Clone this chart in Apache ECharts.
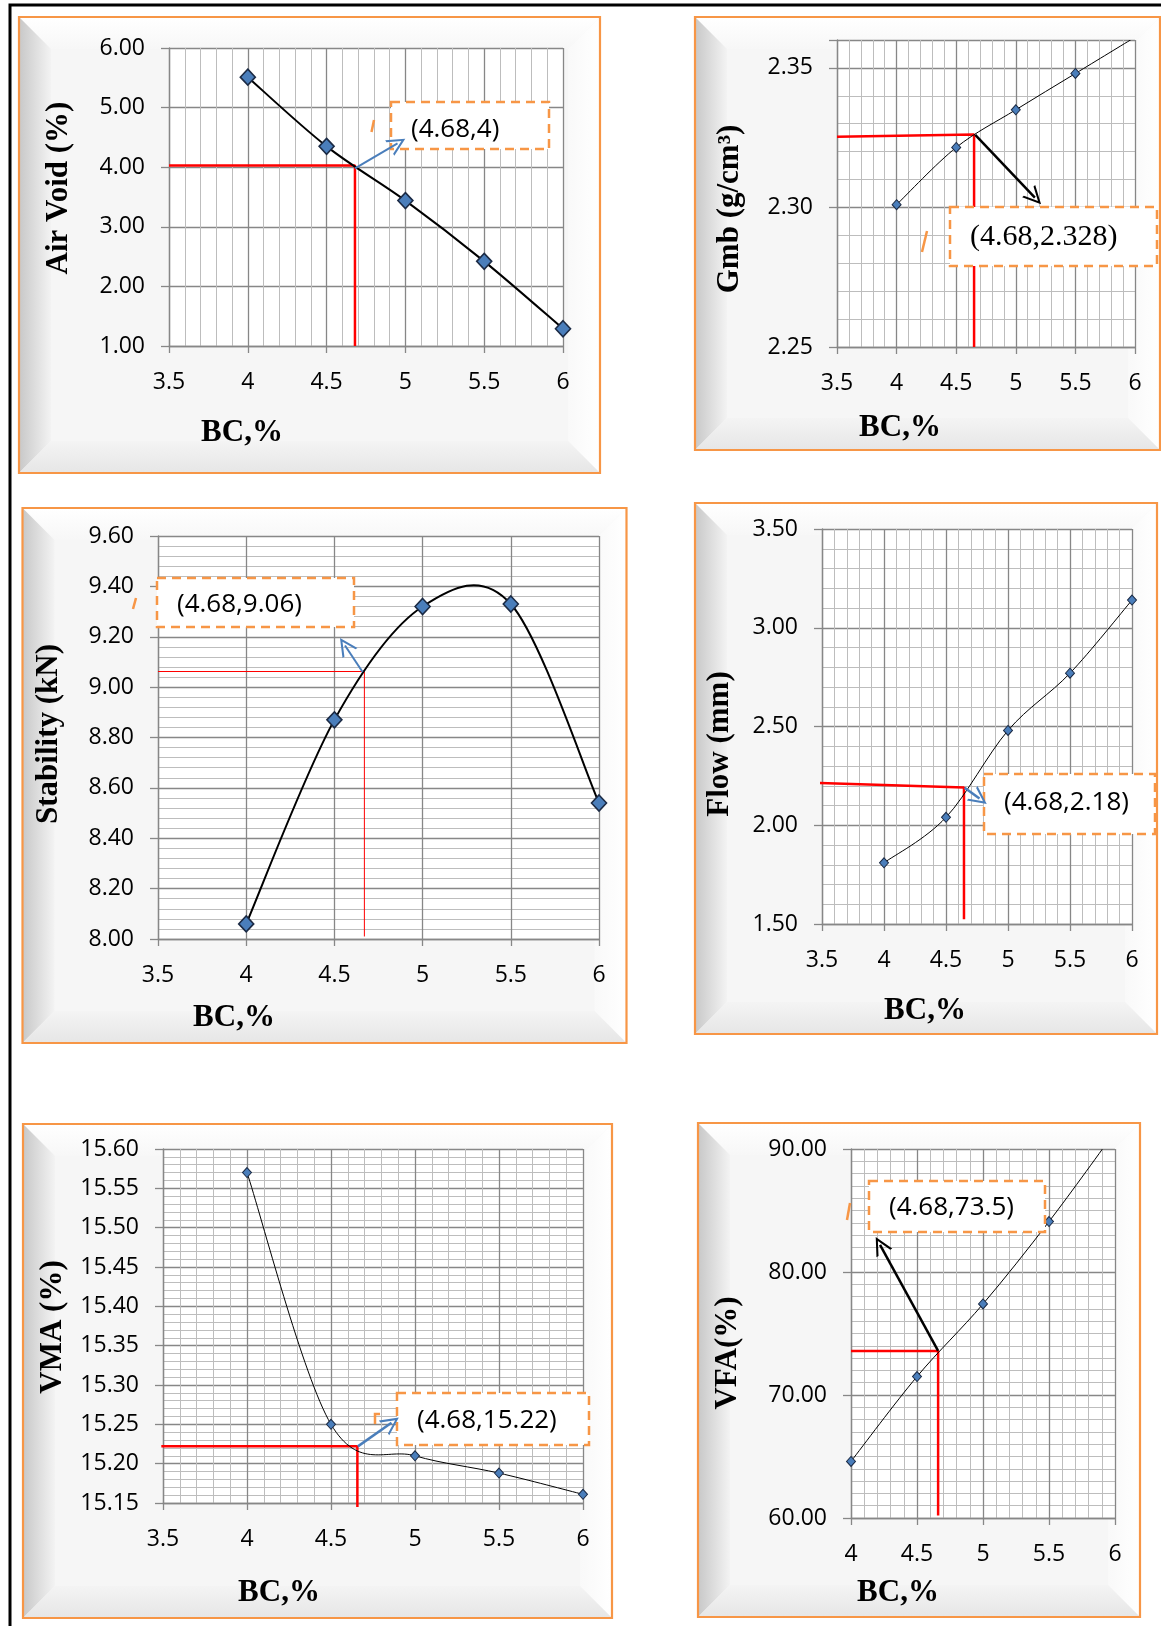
<!DOCTYPE html>
<html>
<head>
<meta charset="utf-8">
<title>Marshall mix design curves</title>
<script src="https://cdn.jsdelivr.net/npm/echarts@6/dist/echarts.min.js"></script>
<style>
html, body { margin: 0; padding: 0; background: #fff; }
#main { width: 1161px; height: 1626px; }
</style>
</head>
<body>
<div id="main"></div>
<script>
// binder content (BC, %)
var bcPct = [4, 4.5, 5, 5.5, 6];
var bcTicks = [3.5, 4, 4.5, 5, 5.5, 6];
var vfaBcTicks = [4, 4.5, 5, 5.5, 6];

// test results per binder content
var airVoid   = [5.51, 4.35, 3.44, 2.42, 1.29];
var gmb       = [2.301, 2.3215, 2.335, 2.348, 2.361];
var stability = [8.06, 8.87, 9.32, 9.33, 8.54];
var flow      = [1.81, 2.04, 2.48, 2.77, 3.14];
var vma       = [15.570, 15.250, 15.210, 15.188, 15.161];
var vfa       = [64.6, 71.5, 77.4, 84.1, 91.4];

// y tick labels
var airVoidTicks   = [1, 2, 3, 4, 5, 6];
var gmbTicks       = [2.25, 2.30, 2.35];
var stabilityTicks = [8.0, 8.2, 8.4, 8.6, 8.8, 9.0, 9.2, 9.4, 9.6];
var flowTicks      = [1.5, 2.0, 2.5, 3.0, 3.5];
var vmaTicks       = [15.15, 15.20, 15.25, 15.30, 15.35, 15.40, 15.45, 15.50, 15.55, 15.60];
var vfaTicks       = [60, 70, 80, 90];

// read-off lines at the optimum binder content
var airVoidGuide   = [[3.5, 4.03], [4.68, 4.03], [4.68, 1.0]];
var gmbGuide       = [[3.5, 2.3253], [4.65, 2.3261], [4.65, 2.25]];
var stabilityGuide = [[3.5, 9.062], [4.67, 9.062], [4.67, 8.01]];
var flowGuide      = [[3.47, 2.214], [4.645, 2.191], [4.645, 1.524]];
var vmaGuide       = [[3.49, 15.222], [4.657, 15.222], [4.657, 15.145]];
var vfaGuide       = [[4.0, 73.58], [4.66, 73.58], [4.66, 60.2]];

// arrows from the read-off point to the call-out
var airVoidArrow   = [[4.68, 3.98], [4.95, 4.40]];
var gmbArrow       = [[4.66, 2.326], [5.16, 2.3035]];
var stabilityArrow = [[4.66, 9.06], [4.56, 9.165]];
var flowArrow      = [[4.65, 2.19], [4.77, 2.135]];
var vmaArrow       = [[4.66, 15.222], [4.86, 15.252]];
var vfaArrow       = [[4.66, 73.58], [4.22, 82.2]];

var notes = ['(4.68,4)', '(4.68,2.328)', '(4.68,9.06)', '(4.68,2.18)', '(4.68,15.22)', '(4.68,73.5)'];

var SANS = '"Open Sans", "Noto Sans", sans-serif';
var SERIF = '"Liberation Serif", "DejaVu Serif", serif';
var ORANGE = '#F79646';

var panels = [
    { yTitle: 'Air Void (%)', values: airVoid, yTicks: airVoidTicks, xTicks: bcTicks, yMinor: 0, xMinor: 5,
      guide: airVoidGuide, arrow: airVoidArrow, arrowColor: '#4a7ebb', arrowW: 2,
      frame: [19, 17, 581, 456], grid: [169, 48, 394, 298],
      yTitleAt: [59, 188], xTitleAt: [242, 433],
      box: [391, 102, 158, 47], noteY: 130, serifNote: false,
      dash: [[374, 120], [371.5, 132]],
      big: true, lineW: 2, guideW: 2.5 },
    { yTitle: 'Gmb (g/cm³)', values: gmb, yTicks: gmbTicks, yTop: 2.36, xTicks: bcTicks, yMinor: 5, xMinor: 5,
      guide: gmbGuide, arrow: gmbArrow, arrowColor: '#000', arrowW: 2.5,
      frame: [695, 17, 465, 433], grid: [837, 40, 298, 307],
      yTitleAt: [730, 209], xTitleAt: [900, 428],
      box: [950, 207, 207, 59], noteY: 237, serifNote: true,
      dash: [[927, 231], [922, 252]],
      big: false, lineW: 1, guideW: 2.5 },
    { yTitle: 'Stability (kN)', values: stability, yTicks: stabilityTicks, xTicks: bcTicks, yMinor: 5, xMinor: 0,
      guide: stabilityGuide, arrow: stabilityArrow, arrowColor: '#4a7ebb', arrowW: 2,
      frame: [22.5, 508, 604, 535], grid: [158, 536, 441, 403],
      yTitleAt: [49, 734], xTitleAt: [234, 1018],
      box: [157, 578, 197, 49], noteY: 605, serifNote: false,
      dash: [[136, 598], [133, 609]],
      big: true, lineW: 2, guideW: 1 },
    { yTitle: 'Flow (mm)', values: flow, yTicks: flowTicks, xTicks: bcTicks, yMinor: 5, xMinor: 5,
      guide: flowGuide, arrow: flowArrow, arrowColor: '#4a7ebb', arrowW: 2.5,
      frame: [695, 503, 462, 531], grid: [822, 529, 310, 395],
      yTitleAt: [720, 744], xTitleAt: [925, 1011],
      box: [984, 774, 171, 60], noteY: 803, serifNote: false,
      dash: null,
      big: false, lineW: 1, guideW: 2.5 },
    { yTitle: 'VMA (%)', values: vma, yTicks: vmaTicks, xTicks: bcTicks, yMinor: 5, xMinor: 5,
      guide: vmaGuide, arrow: vmaArrow, arrowColor: '#4a7ebb', arrowW: 2.5,
      frame: [23, 1124, 589, 494], grid: [163, 1149, 420, 354],
      yTitleAt: [53, 1327], xTitleAt: [279, 1593],
      box: [397, 1393, 192, 52], noteY: 1421, serifNote: false,
      dash: [[380, 1414], [375, 1414], [375, 1424]],
      big: false, lineW: 1, guideW: 2.5 },
    { yTitle: 'VFA(%)', values: vfa, yTicks: vfaTicks, xTicks: vfaBcTicks, yMinor: 10, xMinor: 5,
      guide: vfaGuide, arrow: vfaArrow, arrowColor: '#000', arrowW: 2.5,
      frame: [698, 1123, 442, 494], grid: [851, 1149, 264, 369],
      yTitleAt: [728, 1353], xTitleAt: [898, 1593],
      box: [869, 1181, 176, 51], noteY: 1208, serifNote: false,
      dash: [[850, 1203], [847, 1220]],
      big: false, lineW: 1, guideW: 2.5 }
];

function step(ticks) {
    return +(ticks[1] - ticks[0]).toFixed(6);
}

// bevelled picture frame behind each chart
function bevel(f) {
    var x = f[0], y = f[1], x2 = f[0] + f[2], y2 = f[1] + f[3], b = 32;
    var LG = echarts.graphic.LinearGradient;
    return [
        { type: 'rect', z: -10, shape: { x: x, y: y, width: f[2], height: f[3] }, style: { fill: '#f6f6f6' } },
        { type: 'polygon', z: -9, shape: { points: [[x, y], [x2, y], [x2 - b, y + b], [x + b, y + b]] },
          style: { fill: new LG(0, 0, 0, 1, [{ offset: 0, color: '#ffffff' }, { offset: 1, color: '#f7f7f7' }]) } },
        { type: 'polygon', z: -9, shape: { points: [[x, y], [x + b, y + b], [x + b, y2 - b], [x, y2]] },
          style: { fill: new LG(0, 0, 1, 0, [{ offset: 0, color: '#c8c8c8' }, { offset: 1, color: '#f3f3f3' }]) } },
        { type: 'polygon', z: -9, shape: { points: [[x2, y], [x2, y2], [x2 - b, y2 - b], [x2 - b, y + b]] },
          style: { fill: new LG(0, 0, 1, 0, [{ offset: 0, color: '#f9f9f9' }, { offset: 1, color: '#ffffff' }]) } },
        { type: 'polygon', z: -9, shape: { points: [[x, y2], [x + b, y2 - b], [x2 - b, y2 - b], [x2, y2]] },
          style: { fill: new LG(0, 0, 0, 1, [{ offset: 0, color: '#f4f4f4' }, { offset: 1, color: '#e6e6e6' }]) } },
        { type: 'rect', z: -8, shape: { x: x, y: y, width: f[2], height: f[3] },
          style: { fill: null, stroke: ORANGE, lineWidth: 2.2 } }
    ];
}

// spreadsheet-style smoothed line: one bezier segment per data point, control points
// taken from the neighbouring points after they pass through the axes
function smoothSegment(values, width) {
    return function (params, api) {
        var k = params.dataIndex, n = values.length;
        if (k >= n - 1) return null;
        var pt = function (j) {
            j = Math.max(0, Math.min(n - 1, j));
            return api.coord([bcPct[j], values[j]]);
        };
        var p0 = pt(k - 1), p1 = pt(k), p2 = pt(k + 1), p3 = pt(k + 2);
        return {
            type: 'bezierCurve',
            shape: {
                x1: p1[0], y1: p1[1], x2: p2[0], y2: p2[1],
                cpx1: p1[0] + (p2[0] - p0[0]) / 6, cpy1: p1[1] + (p2[1] - p0[1]) / 6,
                cpx2: p2[0] - (p3[0] - p1[0]) / 6, cpy2: p2[1] - (p3[1] - p1[1]) / 6
            },
            style: { stroke: '#000', lineWidth: width, fill: 'none' }
        };
    };
}

var grids = [], xAxes = [], yAxes = [], series = [];
var graphics = [
    { type: 'rect', z: -5, shape: { x: 10, y: 5, width: 1300, height: 1800 }, style: { fill: null, stroke: '#000', lineWidth: 3 } }
];

panels.forEach(function (p, i) {
    grids.push({
        left: p.grid[0], top: p.grid[1], width: p.grid[2], height: p.grid[3],
        show: true, backgroundColor: '#ffffff', borderWidth: 0, outerBoundsMode: 'none'
    });
    var majorLine = { color: '#878787', width: 1.3 };
    var minorLine = { color: '#bdbdbd', width: 1 };
    xAxes.push({
        type: 'value', gridIndex: i,
        min: p.xTicks[0], max: p.xTicks[p.xTicks.length - 1], interval: step(p.xTicks),
        axisLine: { show: true, onZero: false, lineStyle: majorLine },
        axisTick: { show: true, length: 7, lineStyle: majorLine },
        axisLabel: { margin: 25, color: '#000', fontFamily: SANS, fontSize: 23, showMinLabel: true, showMaxLabel: true },
        splitLine: { show: true, lineStyle: majorLine },
        minorTick: { show: false, splitNumber: p.xMinor || 5 },
        minorSplitLine: { show: !!p.xMinor, lineStyle: minorLine }
    });
    var yt = p.yTicks;
    yAxes.push({
        type: 'value', gridIndex: i,
        min: yt[0], max: p.yTop || yt[yt.length - 1], interval: step(yt),
        axisLine: { show: true, onZero: false, lineStyle: majorLine },
        axisTick: { show: true, length: 8, lineStyle: majorLine },
        axisLabel: {
            margin: 24, color: '#000', fontFamily: SANS, fontSize: 23, showMinLabel: true, showMaxLabel: true,
            formatter: function (v) {
                for (var k = 0; k < yt.length; k++) {
                    if (Math.abs(v - yt[k]) < 1e-6) return yt[k].toFixed(2);
                }
                return '';
            }
        },
        splitLine: { show: true, lineStyle: majorLine },
        minorTick: { show: false, splitNumber: p.yMinor || 5 },
        minorSplitLine: { show: !!p.yMinor, lineStyle: minorLine }
    });

    var pts = bcPct.map(function (x, k) { return [x, p.values[k]]; });

    // read-off lines + arrow (arrow sits above the call-out box)
    series.push({
        type: 'line', xAxisIndex: i, yAxisIndex: i, z: 3, silent: true, clip: false,
        symbol: 'none', data: p.guide,
        lineStyle: { color: '#ff0000', width: p.guideW },
        markLine: {
            silent: true, animation: false, z: 40,
            symbol: ['none', 'path://M5,0 L10,10 L8.7,10 L5,2.5 L1.3,10 L0,10 Z'],
            symbolSize: 18,
            label: { show: false },
            lineStyle: { color: p.arrowColor, width: p.arrowW, type: 'solid' },
            data: [[{ coord: p.arrow[0] }, { coord: p.arrow[1] }]]
        }
    });

    // measured curve
    series.push({
        type: 'custom', xAxisIndex: i, yAxisIndex: i, z: 4, silent: true, clip: true,
        data: pts, renderItem: smoothSegment(p.values, p.lineW)
    });
    series.push({
        type: 'scatter', xAxisIndex: i, yAxisIndex: i, z: 5, silent: true, clip: true,
        data: pts, symbol: 'diamond', symbolSize: p.big ? [15, 16] : [9, 10],
        itemStyle: { color: '#4a7ebb', borderColor: '#1b2a44', borderWidth: p.big ? 1.6 : 1, opacity: 1 }
    });

    // frame, titles, call-out
    graphics = graphics.concat(bevel(p.frame));
    graphics.push({
        type: 'text', z: 20, x: p.yTitleAt[0], y: p.yTitleAt[1], rotation: Math.PI / 2,
        style: { text: p.yTitle, font: 'bold 31px ' + SERIF, fill: '#000',
                 align: 'center', verticalAlign: 'middle', textAlign: 'center', textVerticalAlign: 'middle' }
    });
    graphics.push({
        type: 'text', z: 20, x: p.xTitleAt[0], y: p.xTitleAt[1],
        style: { text: 'BC,%', font: 'bold 31px ' + SERIF, fill: '#000',
                 align: 'center', verticalAlign: 'middle', textAlign: 'center', textVerticalAlign: 'middle' }
    });
    graphics.push({
        type: 'rect', z: 30, shape: { x: p.box[0], y: p.box[1], width: p.box[2], height: p.box[3] },
        style: { fill: '#ffffff', stroke: ORANGE, lineWidth: 2.5, lineDash: [9, 6] }
    });
    graphics.push({
        type: 'text', z: 31, x: p.box[0] + 20, y: p.noteY,
        style: { text: notes[i], font: p.serifNote ? '30px ' + SERIF : '26px ' + SANS, fill: '#000',
                 align: 'left', verticalAlign: 'middle', textAlign: 'left', textVerticalAlign: 'middle' }
    });
    if (p.dash) {
        graphics.push({
            type: 'polyline', z: 30, shape: { points: p.dash },
            style: { stroke: ORANGE, lineWidth: 2.5, fill: null }
        });
    }
});

var myChart = echarts.init(document.getElementById('main'));
myChart.setOption({
    animation: false,
    backgroundColor: '#ffffff',
    grid: grids,
    xAxis: xAxes,
    yAxis: yAxes,
    series: series,
    graphic: { elements: graphics }
});
</script>
</body>
</html>
